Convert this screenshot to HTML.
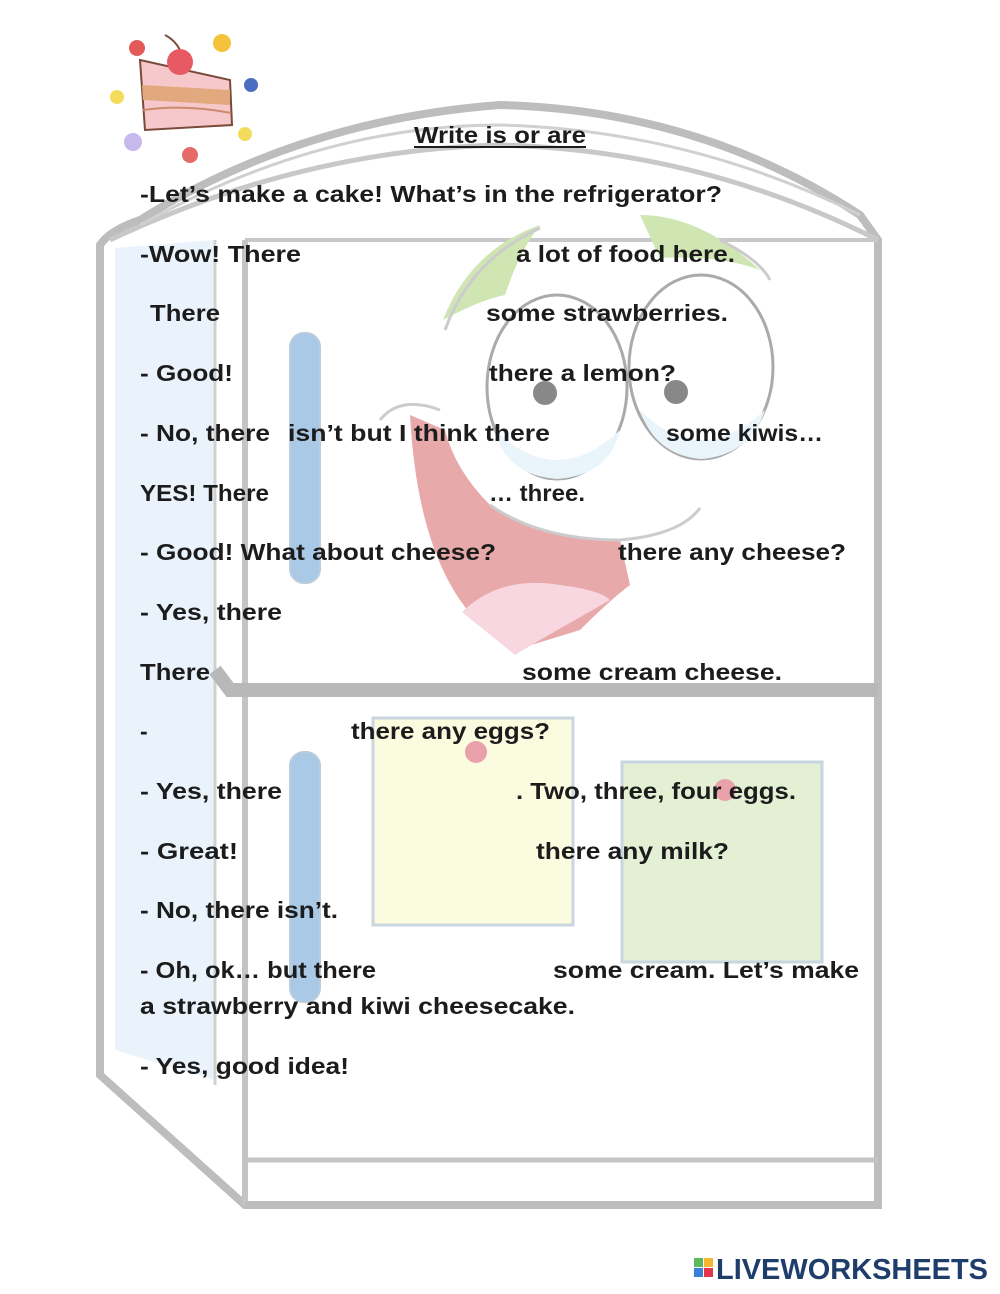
<!DOCTYPE html>
<html><head><meta charset="utf-8"><style>
html,body{margin:0;padding:0;background:#fff;}
svg{display:block;}
text{font-family:"Liberation Sans",sans-serif;font-weight:bold;fill:#1c1c1c;}
</style></head><body>
<svg width="1000" height="1294" viewBox="0 0 1000 1294" xmlns="http://www.w3.org/2000/svg">
<!-- fridge -->
<path d="M100 245 Q110 230 140 220 Q300 120 500 105 Q700 110 860 215 L878 240 L878 1205 L245 1205 L100 1075 Z" fill="#fff" stroke="#bdbdbd" stroke-width="8"/>
<path d="M115 248 L215 240 L215 1080 L115 1050 Z" fill="#eaf3fb"/>
<path d="M245 240 L878 240" stroke="#c8c8c8" stroke-width="4" fill="none"/>
<path d="M110 240 Q300 150 500 145 Q700 150 878 240" stroke="#c8c8c8" stroke-width="5" fill="none"/>
<path d="M140 225 Q320 125 500 125 Q690 130 860 215" stroke="#d0d0d0" stroke-width="3" fill="none"/>
<line x1="245" y1="240" x2="245" y2="1205" stroke="#c4c4c4" stroke-width="6"/>
<line x1="215" y1="240" x2="215" y2="1085" stroke="#d0d0d0" stroke-width="3"/>
<path d="M215 670 L230 690 L878 690" stroke="#b8b8b8" stroke-width="14" fill="none"/>
<line x1="245" y1="1160" x2="878" y2="1160" stroke="#c4c4c4" stroke-width="5"/>
<line x1="245" y1="1205" x2="878" y2="1205" stroke="#bdbdbd" stroke-width="6"/>
<!-- handles -->
<rect x="290" y="333" width="30" height="250" rx="14" fill="#a9c9e6" stroke="#bcd" stroke-width="2"/>
<rect x="290" y="752" width="30" height="250" rx="14" fill="#a9c9e6" stroke="#bcd" stroke-width="2"/>
<!-- face -->
<path d="M443 320 Q470 250 540 225 Q520 250 505 295 Q480 300 443 320 Z" fill="#cfe6b3"/>
<path d="M640 215 Q700 215 760 270 Q720 255 660 258 Z" fill="#cfe6b3"/>
<path d="M445 330 Q470 260 540 228" stroke="#ccc" stroke-width="3" fill="none"/>
<path d="M720 240 Q760 260 770 280" stroke="#ccc" stroke-width="3" fill="none"/>
<ellipse cx="701" cy="367" rx="72" ry="92" fill="#fff" stroke="#aaa" stroke-width="3"/>
<ellipse cx="557" cy="387" rx="70" ry="92" fill="#fff" stroke="#aaa" stroke-width="3"/>
<path d="M495 430 Q557 490 620 430 Q610 475 557 479 Q505 475 495 430 Z" fill="#eaf4fb"/>
<path d="M640 410 Q700 470 765 410 Q750 455 701 459 Q655 455 640 410 Z" fill="#eaf4fb"/>
<circle cx="545" cy="393" r="12" fill="#888"/>
<circle cx="676" cy="392" r="12" fill="#888"/>
<path d="M380 420 Q400 395 440 410" stroke="#ccc" stroke-width="3" fill="none"/>
<path d="M410 415 Q420 600 515 650 L580 630 Q610 600 630 585 L620 540 Q540 540 490 505 Q455 470 445 430 Z" fill="#e8a9ab"/>
<path d="M490 505 Q540 540 620 540 Q680 535 700 508" stroke="#ccc" stroke-width="3" fill="none"/>
<path d="M462 612 Q500 575 560 585 Q600 590 610 600 L540 640 L515 655 Z" fill="#f8d7e1"/>
<!-- notes -->
<rect x="373" y="718" width="200" height="207" fill="#fbfbe0" stroke="#c8d6e0" stroke-width="3"/>
<rect x="622" y="762" width="200" height="200" fill="#e4f0d4" stroke="#c8d6e0" stroke-width="3"/>
<circle cx="476" cy="752" r="11" fill="#e9a1ab"/>
<circle cx="725" cy="790" r="11" fill="#e9a1ab"/>
<!-- cake -->
<path d="M140 60 L230 80 L232 125 L145 130 Z" fill="#f6c8cb" stroke="#7a4a3a" stroke-width="2"/>
<path d="M142 85 L230 90 L230 105 L143 100 Z" fill="#e2a87e"/>
<path d="M143 110 Q185 104 231 113" stroke="#c98a6e" stroke-width="2" fill="none"/>
<path d="M180 50 Q175 40 165 35" stroke="#7a4a3a" stroke-width="2" fill="none"/>
<circle cx="180" cy="62" r="13" fill="#e85a63"/>
<circle cx="137" cy="48" r="8" fill="#e45a5a"/>
<circle cx="222" cy="43" r="9" fill="#f5c33b"/>
<circle cx="251" cy="85" r="7" fill="#4a6fc0"/>
<circle cx="117" cy="97" r="7" fill="#f3dc5c"/>
<circle cx="133" cy="142" r="9" fill="#c7b8ee"/>
<circle cx="245" cy="134" r="7" fill="#f3dc5c"/>
<circle cx="190" cy="155" r="8" fill="#e56b6b"/>
<!-- text -->
<g font-size="23">
<text x="414" y="143" textLength="172" lengthAdjust="spacingAndGlyphs">Write is or are</text>
<line x1="414" y1="147" x2="586" y2="147" stroke="#1c1c1c" stroke-width="2"/>
<text x="140" y="202" textLength="582" lengthAdjust="spacingAndGlyphs">-Let’s make a cake! What’s in the refrigerator?</text>
<text x="140" y="262" textLength="161" lengthAdjust="spacingAndGlyphs">-Wow! There</text>
<text x="516" y="262" textLength="219" lengthAdjust="spacingAndGlyphs">a  lot of food here.</text>
<text x="150" y="321" textLength="70" lengthAdjust="spacingAndGlyphs">There</text>
<text x="486" y="321" textLength="242" lengthAdjust="spacingAndGlyphs">some strawberries.</text>
<text x="140" y="381" textLength="93" lengthAdjust="spacingAndGlyphs">- Good!</text>
<text x="489" y="381" textLength="187" lengthAdjust="spacingAndGlyphs">there a lemon?</text>
<text x="140" y="441" textLength="130" lengthAdjust="spacingAndGlyphs">- No, there</text>
<text x="288" y="441" textLength="262" lengthAdjust="spacingAndGlyphs">isn’t  but I think there</text>
<text x="666" y="441" textLength="157" lengthAdjust="spacingAndGlyphs">some kiwis…</text>
<text x="140" y="501" textLength="129" lengthAdjust="spacingAndGlyphs">YES! There</text>
<text x="489" y="501" textLength="96" lengthAdjust="spacingAndGlyphs">… three.</text>
<text x="140" y="560" textLength="356" lengthAdjust="spacingAndGlyphs">- Good! What about cheese?</text>
<text x="618" y="560" textLength="228" lengthAdjust="spacingAndGlyphs">there any cheese?</text>
<text x="140" y="620" textLength="142" lengthAdjust="spacingAndGlyphs">- Yes, there</text>
<text x="140" y="680" textLength="70" lengthAdjust="spacingAndGlyphs">There</text>
<text x="522" y="680" textLength="260" lengthAdjust="spacingAndGlyphs">some cream cheese.</text>
<text x="140" y="739">-</text>
<text x="351" y="739" textLength="199" lengthAdjust="spacingAndGlyphs">there any eggs?</text>
<text x="140" y="799" textLength="142" lengthAdjust="spacingAndGlyphs">- Yes, there</text>
<text x="516" y="799" textLength="280" lengthAdjust="spacingAndGlyphs">. Two, three, four eggs.</text>
<text x="140" y="859" textLength="98" lengthAdjust="spacingAndGlyphs">- Great!</text>
<text x="536" y="859" textLength="193" lengthAdjust="spacingAndGlyphs">there any milk?</text>
<text x="140" y="918" textLength="198" lengthAdjust="spacingAndGlyphs">- No, there isn’t.</text>
<text x="140" y="978" textLength="236" lengthAdjust="spacingAndGlyphs">- Oh, ok… but there</text>
<text x="553" y="978" textLength="306" lengthAdjust="spacingAndGlyphs">some cream. Let’s make</text>
<text x="140" y="1014" textLength="435" lengthAdjust="spacingAndGlyphs">a strawberry and kiwi cheesecake.</text>
<text x="140" y="1074" textLength="209" lengthAdjust="spacingAndGlyphs">- Yes, good idea!</text>
</g>
<!-- logo -->
<rect x="694" y="1258" width="9" height="9" fill="#5bb85b"/>
<rect x="704" y="1258" width="9" height="9" fill="#f2b630"/>
<rect x="694" y="1268" width="9" height="9" fill="#3d7fd6"/>
<rect x="704" y="1268" width="9" height="9" fill="#e2374a"/>
<text x="716" y="1279" font-size="29" textLength="272" lengthAdjust="spacingAndGlyphs" style="fill:#1f3d6b">LIVEWORKSHEETS</text>
</svg>
</body></html>
